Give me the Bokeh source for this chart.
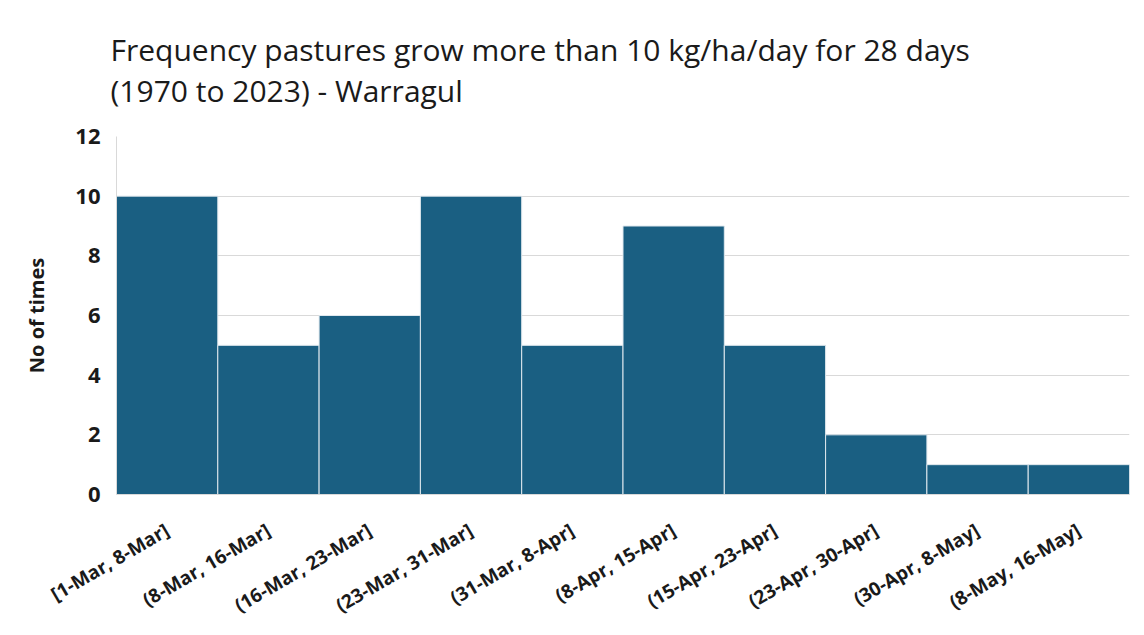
from bokeh.plotting import figure
from bokeh.models import FactorRange, Range1d, SingleIntervalTicker
from bokeh.embed import file_html
from bokeh.resources import INLINE

categories = ["[1-Mar, 8-Mar]", "(8-Mar, 16-Mar]", "(16-Mar, 23-Mar]", "(23-Mar, 31-Mar]",
              "(31-Mar, 8-Apr]", "(8-Apr, 15-Apr]", "(15-Apr, 23-Apr]", "(23-Apr, 30-Apr]",
              "(30-Apr, 8-May]", "(8-May, 16-May]"]
counts = [10, 5, 6, 10, 5, 9, 5, 2, 1, 1]

title_text = "Frequency pastures grow more than 10 kg/ha/day for 28 days\n(1970 to 2023) - Warragul"

p = figure(x_range=FactorRange(*categories), y_range=Range1d(0, 12),
           width=1144, height=635, output_backend="svg", toolbar_location=None,
           min_border_left=116, min_border_right=15, min_border_top=135, min_border_bottom=141)

p.vbar(x=categories, top=counts, width=1.0, fill_color="#1a5f82", line_color="#dfe8ee", line_width=1)

p.title.text = title_text
p.title.text_font = "Open Sans"
p.title.text_font_size = "30px"
p.title.text_font_style = "normal"
p.title.text_color = "#1a1a1a"
p.title.align = "left"
p.title.offset = -6
p.title.standoff = 52
p.title.text_line_height = 1.0

p.outline_line_color = None
p.background_fill_color = "white"
p.border_fill_color = "white"

p.xgrid.grid_line_color = None
p.ygrid.grid_line_color = "#d9d9d9"
p.ygrid.grid_line_width = 1

p.yaxis.ticker = SingleIntervalTicker(interval=2)
p.yaxis.axis_line_color = "#d9d9d9"
p.yaxis.major_tick_line_color = None
p.yaxis.minor_tick_line_color = None
p.yaxis.major_label_text_font = "Open Sans"
p.yaxis.major_label_text_font_style = "bold"
p.yaxis.major_label_text_font_size = "22px"
p.yaxis.major_label_text_color = "#1a1a1a"
p.yaxis.major_label_standoff = 10
p.yaxis.axis_label = "No of times"
p.yaxis.axis_label_text_font = "Open Sans"
p.yaxis.axis_label_text_font_style = "bold"
p.yaxis.axis_label_text_font_size = "20px"
p.yaxis.axis_label_text_color = "#1a1a1a"
p.yaxis.axis_label_standoff = 22

p.xaxis.axis_line_color = "#d9d9d9"
p.xaxis.major_tick_line_color = None
p.xaxis.minor_tick_line_color = None
p.xaxis.major_label_orientation = 0.53
p.xaxis.major_label_text_font = "Open Sans"
p.xaxis.major_label_text_font_style = "bold"
p.xaxis.major_label_text_font_size = "19px"
p.xaxis.major_label_text_color = "#1a1a1a"
p.xaxis.major_label_standoff = 28

open("out.html", "w").write(file_html(p, INLINE))
